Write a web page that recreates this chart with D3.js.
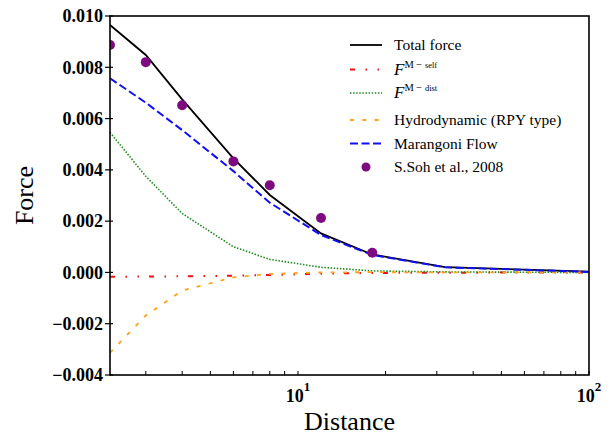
<!DOCTYPE html>
<html>
<head>
<meta charset="utf-8">
<script src="https://cdn.jsdelivr.net/npm/d3@7"></script>
<style>
  body { margin: 0; background: #fff; }
  text { font-family: "Liberation Serif", "Times New Roman", serif; }
  .tick-label { font-size: 18px; font-weight: bold; }
  .axis-title { font-size: 26px; }
  .legend text { font-size: 15.5px; }
</style>
</head>
<body>
<svg width="611" height="435"></svg>
<script>
//distances where the curves are sampled
const distance = [2.26, 3, 4, 6, 8, 12, 18, 32, 100];
//force values in units of 1e-3
const totalForce = [9.65, 8.48, 6.75, 4.45, 3.02, 1.52, 0.70, 0.21, 0.03];
const fSelf = [-0.17, -0.16, -0.15, -0.13, -0.10, -0.05, -0.02, -0.01, 0.0];
const fDist = [5.46, 3.75, 2.30, 1.0, 0.51, 0.2, 0.06, 0.02, 0.0];
const hydro = [-3.13, -1.68, -0.71, -0.19, -0.06, 0.0, 0.01, 0.0, 0.0];
const marangoni = [7.57, 6.62, 5.55, 3.95, 2.72, 1.46, 0.68, 0.20, 0.02];
//experiment (S.Soh et al., 2008)
const sohDistance = [2.26, 3, 4, 6, 8, 12, 18];
const sohForce = [8.87, 8.2, 6.52, 4.33, 3.40, 2.12, 0.77];

const yTicks = [-0.004, -0.002, 0, 0.002, 0.004, 0.006, 0.008, 0.01];
const xMajor = [10, 100];
const xMinor = [3, 4, 5, 6, 7, 8, 9, 20, 30, 40, 50, 60, 70, 80, 90];

let svg = d3.select("svg");
let boxLeft = 110, boxRight = 589, boxTop = 16, boxBottom = 375;

let xScale = d3.scaleLog().domain([2.26, 100]).range([boxLeft, boxRight]);
let yScale = d3.scaleLinear().domain([-0.004, 0.01]).range([boxBottom, boxTop]);

//clip to the axes box
svg.append("clipPath").attr("id", "plotClip")
  .append("rect")
  .attr("x", boxLeft).attr("y", boxTop)
  .attr("width", boxRight - boxLeft).attr("height", boxBottom - boxTop);

let plot = svg.append("g").attr("clip-path", "url(#plotClip)");

let line = d3.line()
  .x(function(d) { return xScale(d[0]); })
  .y(function(d) { return yScale(d[1] * 1e-3); });

//series in the drawing order of the legend
let series = [
  { name: "Total force", values: totalForce, color: "#000000", width: 1.8, dash: null },
  { name: "self", values: fSelf, color: "#ee1111", width: 2, dash: "5,10.5,1.5,10.5,1.5,10" },
  { name: "dist", values: fDist, color: "#1e8a1e", width: 1.6, dash: "1.5,1.6" },
  { name: "Hydrodynamic (RPY type)", values: hydro, color: "#ffa01e", width: 1.8, dash: "4,8.3" },
  { name: "Marangoni Flow", values: marangoni, color: "#1010f0", width: 2, dash: "8,3.5" }
];

series.forEach(function(s) {
  plot.append("path")
    .datum(distance.map(function(d, i) { return [d, s.values[i]]; }))
    .attr("fill", "none")
    .attr("stroke", s.color)
    .attr("stroke-width", s.width)
    .attr("stroke-dasharray", s.dash)
    .attr("d", line);
});

//experiment dots
plot.selectAll(".soh")
  .data(sohDistance)
  .enter()
  .append("circle")
  .attr("class", "soh")
  .attr("cx", function(d) { return xScale(d); })
  .attr("cy", function(d, i) { return yScale(sohForce[i] * 1e-3); })
  .attr("r", 5)
  .attr("fill", "#7d0a80");

//frame
svg.append("rect")
  .attr("x", boxLeft).attr("y", boxTop)
  .attr("width", boxRight - boxLeft).attr("height", boxBottom - boxTop)
  .attr("fill", "none")
  .attr("stroke", "#000")
  .attr("stroke-width", 1.6);

//y ticks and labels
let fmt = d3.format(".3f");
yTicks.forEach(function(t) {
  svg.append("line")
    .attr("x1", boxLeft - 5).attr("x2", boxLeft + 3)
    .attr("y1", yScale(t)).attr("y2", yScale(t))
    .attr("stroke", "#000").attr("stroke-width", 1.2);
  svg.append("text")
    .attr("class", "tick-label")
    .attr("x", boxLeft - 7)
    .attr("y", yScale(t))
    .attr("dy", "0.35em")
    .attr("text-anchor", "end")
    .text(fmt(t));
});

//x ticks (inward)
xMinor.concat(xMajor).forEach(function(t) {
  svg.append("line")
    .attr("x1", xScale(t)).attr("x2", xScale(t))
    .attr("y1", boxBottom).attr("y2", boxBottom - 4)
    .attr("stroke", "#000").attr("stroke-width", 1);
});
xMajor.forEach(function(t) {
  let lbl = svg.append("text")
    .attr("class", "tick-label")
    .attr("x", xScale(t))
    .attr("y", boxBottom + 27)
    .attr("text-anchor", "middle");
  lbl.append("tspan").text("10");
  lbl.append("tspan")
    .attr("dy", -11)
    .attr("font-size", 13)
    .text(Math.round(Math.log10(t)));
});

//axis titles
svg.append("text")
  .attr("class", "axis-title")
  .attr("x", (boxLeft + boxRight) / 2)
  .attr("y", 430)
  .attr("text-anchor", "middle")
  .text("Distance");
svg.append("text")
  .attr("class", "axis-title")
  .attr("transform", "translate(33," + (boxTop + boxBottom) / 2 + ") rotate(-90)")
  .attr("text-anchor", "middle")
  .text("Force");

//legend
let legend = svg.append("g").attr("class", "legend");
let rowY = [45, 69.5, 93, 120, 143.5, 167];
series.forEach(function(s, i) {
  legend.append("line")
    .attr("x1", 350).attr("x2", 382)
    .attr("y1", rowY[i]).attr("y2", rowY[i])
    .attr("stroke", s.color)
    .attr("stroke-width", s.width)
    .attr("stroke-dasharray", s.dash);
  let txt = legend.append("text")
    .attr("x", 394)
    .attr("y", rowY[i])
    .attr("dy", "0.35em");
  if (s.name == "self" || s.name == "dist") {
    txt.append("tspan").attr("font-style", "italic").attr("font-size", 17).text("F");
    txt.append("tspan").attr("dy", -7).attr("font-size", 10.5).text("M − ");
    txt.append("tspan").attr("font-size", 8.5).text(s.name);
  } else {
    txt.text(s.name);
  }
});
legend.append("circle")
  .attr("cx", 366).attr("cy", rowY[5])
  .attr("r", 4.5)
  .attr("fill", "#7d0a80");
legend.append("text")
  .attr("x", 394)
  .attr("y", rowY[5])
  .attr("dy", "0.35em")
  .text("S.Soh et al., 2008");
</script>
</body>
</html>
